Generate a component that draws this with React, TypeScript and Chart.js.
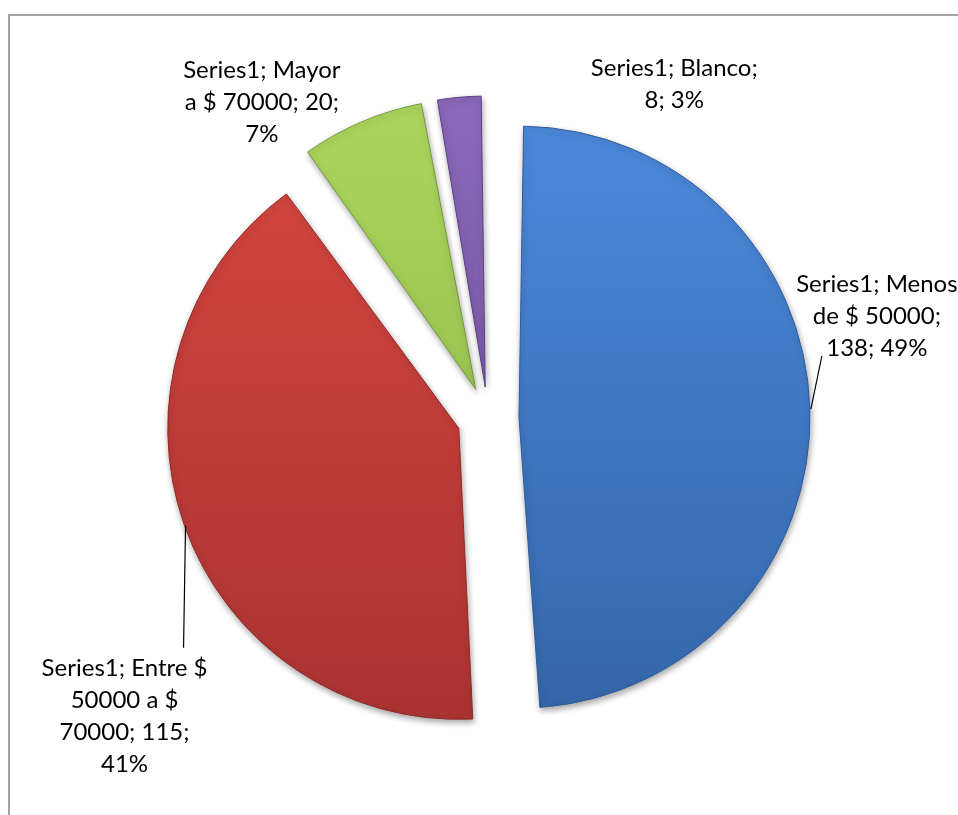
import React, { useEffect, useRef } from "react";
import { Chart, registerables } from "chart.js";

Chart.register(...registerables);

// ---- data ----
const seriesName = "Series1";
const categories = ["Menos de $ 50000", "Entre $ 50000 a $ 70000", "Mayor a $ 70000", "Blanco"];
const values = [138, 115, 20, 8];
// word counts after which each data label wraps to a new line
const labelBreaks = [[2, 5], [3, 6, 8], [2, 6], [2]];

// ---- styles ----
const topColors = ["#4b88da", "#d6463f", "#abd65d", "#8b68ba"];
const bottomColors = ["#3566aa", "#a93331", "#8ab347", "#6b4d97"];
const edgeColors = ["#2f5b98", "#8f2a28", "#76993b", "#5c4184"];
const RADIUS = 291;
const OFFSET = 124; // Chart.js shifts each slice by offset / 4
const FONT = "24px Lato, 'Open Sans', sans-serif";
const LINE_H = 32;
// label centre relative to the slice's outer mid point
const labelDx = [67, -60, -100, 215];
const labelDy = [-93, 191, -19, -13];
// leader line end relative to the slice's outer mid point (null = none)
const leaderDx: (number | null)[] = [12, -1, null, null];
const leaderDy: (number | null)[] = [-53, 122, null, null];

const total = values.reduce((a, b) => a + b, 0);

function labelLinesFor(i: number): string[] {
  const pct = Math.round((values[i] / total) * 100) + "%";
  const text = `${seriesName}; ${categories[i]}; ${values[i]}; ${pct}`;
  const words = text.split(" ");
  const br = [0, ...labelBreaks[i], words.length];
  const lines: string[] = [];
  for (let k = 0; k < br.length - 1; k++) lines.push(words.slice(br[k], br[k + 1]).join(" "));
  return lines;
}

const radiusFix = {
  id: "radiusFix",
  beforeDatasetsDraw(chart: any) {
    const meta = chart.getDatasetMeta(0);
    meta.data.forEach((arc: any) => {
      const fix = 1 - Math.sin(Math.min(Math.PI, arc.circumference || 0));
      arc.outerRadius = RADIUS - (OFFSET / 4) * fix;
    });
    const ctx = chart.ctx;
    ctx.save();
    ctx.shadowColor = "rgba(0,0,0,0.35)";
    ctx.shadowBlur = 6;
    ctx.shadowOffsetX = 1;
    ctx.shadowOffsetY = 3;
  },
  afterDatasetsDraw(chart: any) {
    chart.ctx.restore();
  },
};

const dataLabels = {
  id: "dataLabels",
  afterDraw(chart: any) {
    const ctx = chart.ctx;
    const meta = chart.getDatasetMeta(0);
    ctx.save();
    ctx.font = FONT;
    ctx.fillStyle = "#000";
    ctx.strokeStyle = "#000";
    ctx.lineWidth = 1.2;
    ctx.textAlign = "center";
    ctx.textBaseline = "middle";
    meta.data.forEach((arc: any, i: number) => {
      const mid = (arc.startAngle + arc.endAngle) / 2;
      const t = OFFSET / 4;
      const ax = arc.x + Math.cos(mid) * (t + RADIUS);
      const ay = arc.y + Math.sin(mid) * (t + RADIUS);
      const lx = leaderDx[i];
      const ly = leaderDy[i];
      if (lx !== null && ly !== null) {
        ctx.beginPath();
        ctx.moveTo(ax + 1, ay);
        ctx.lineTo(ax + lx, ay + ly);
        ctx.stroke();
      }
      const lines = labelLinesFor(i);
      const cx = ax + labelDx[i];
      const cy = ay + labelDy[i];
      lines.forEach((ln, k) => {
        ctx.fillText(ln, cx, cy + (k - (lines.length - 1) / 2) * LINE_H);
      });
    });
    ctx.restore();
  },
};

export default function App() {
  const ref = useRef<HTMLCanvasElement | null>(null);
  useEffect(() => {
    if (!ref.current) return;
    const grad = (c: any) => {
      const i = c.dataIndex ?? 0;
      const area = c.chart.chartArea;
      if (!area) return topColors[i];
      const cy = (area.top + area.bottom) / 2;
      const g = c.chart.ctx.createLinearGradient(0, cy - RADIUS, 0, cy + RADIUS);
      g.addColorStop(0, topColors[i]);
      g.addColorStop(1, bottomColors[i]);
      return g;
    };
    const chart = new Chart(ref.current, {
      type: "pie",
      data: {
        labels: categories,
        datasets: [
          {
            label: seriesName,
            data: values,
            backgroundColor: grad as any,
            borderColor: edgeColors,
            borderWidth: 1,
            offset: OFFSET,
            hoverOffset: OFFSET,
          },
        ],
      },
      options: {
        responsive: false,
        animation: false,
        radius: RADIUS,
        layout: { padding: { left: 18, right: 0, top: 21, bottom: 0 } },
        plugins: { legend: { display: false }, tooltip: { enabled: false } },
        events: [],
      } as any,
      plugins: [radiusFix, dataLabels],
    });
    return () => chart.destroy();
  }, []);
  return (
    <div style={{ position: "fixed", left: 0, top: 0, width: 958, height: 815, background: "#fff", overflow: "hidden" }}>
      <div
        style={{
          position: "absolute",
          left: 8,
          top: 14,
          width: 980,
          height: 840,
          borderTop: "2px solid #a3a3a3",
          borderLeft: "2px solid #a3a3a3",
        }}
      />
      <canvas ref={ref} width={958} height={815} style={{ position: "absolute", left: 0, top: 0 }} />
    </div>
  );
}
